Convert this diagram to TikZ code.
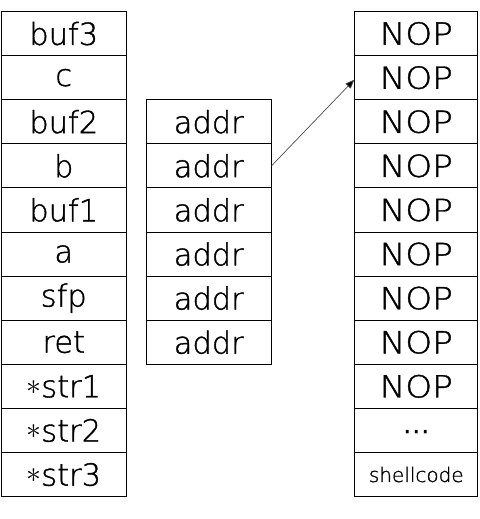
\documentclass[tikz,border=0pt]{standalone}
\usepackage{fontspec}
\setmainfont{DejaVu Sans ExtraLight}[FakeBold=1.2]
\newfontfamily\dotsfont{DejaVu Sans}
\usetikzlibrary{arrows.meta}
\tikzset{
  cell/.style={draw=black, line width=1pt, minimum width=124.5pt, minimum height=44.1pt, inner sep=0pt, anchor=north west, font=\fontsize{30.5}{30.5}\selectfont},
  small/.style={font=\fontsize{20}{20}\selectfont},
  ptr/.style={draw=black!70, line width=0.7pt, -{Triangle[length=9pt,width=7pt,fill=black]}}
}
\newcommand{\lowast}{\raisebox{3pt}{\scalebox{1.2}{$\ast$}}}
\begin{document}
\begin{tikzpicture}[x=1pt,y=-1pt]
\useasboundingbox (0,0) rectangle (479,519);
% left column
\foreach \t [count=\i from 0] in {buf3,c,buf2,b,buf1,a,sfp,ret,{\lowast str1},{\lowast str2},{\lowast str3}}
  \node[cell] (L\i) at (1,11+44.1*\i) {\t};
% middle column
\foreach \i in {0,...,5}
  \node[cell] (M\i) at (146,99.2+44.1*\i) {addr};
% right column
\foreach \i in {0,...,8}
  \node[cell, minimum width=123pt] (R\i) at (354.3,11+44.1*\i) {\scalebox{1.12}[1]{NOP}};
\node[cell, minimum width=123pt] (R9) at (354.3,11+44.1*9) {\raisebox{-5pt}[\height][\depth]{\dotsfont\fontsize{27}{27}\selectfont ⋯}};
\node[cell, minimum width=123pt, small] (R10) at (354.3,11+44.1*10) {shellcode};
\draw[ptr] (M1.east) -- ([yshift=-2pt]R1.west);
\end{tikzpicture}
\end{document}
